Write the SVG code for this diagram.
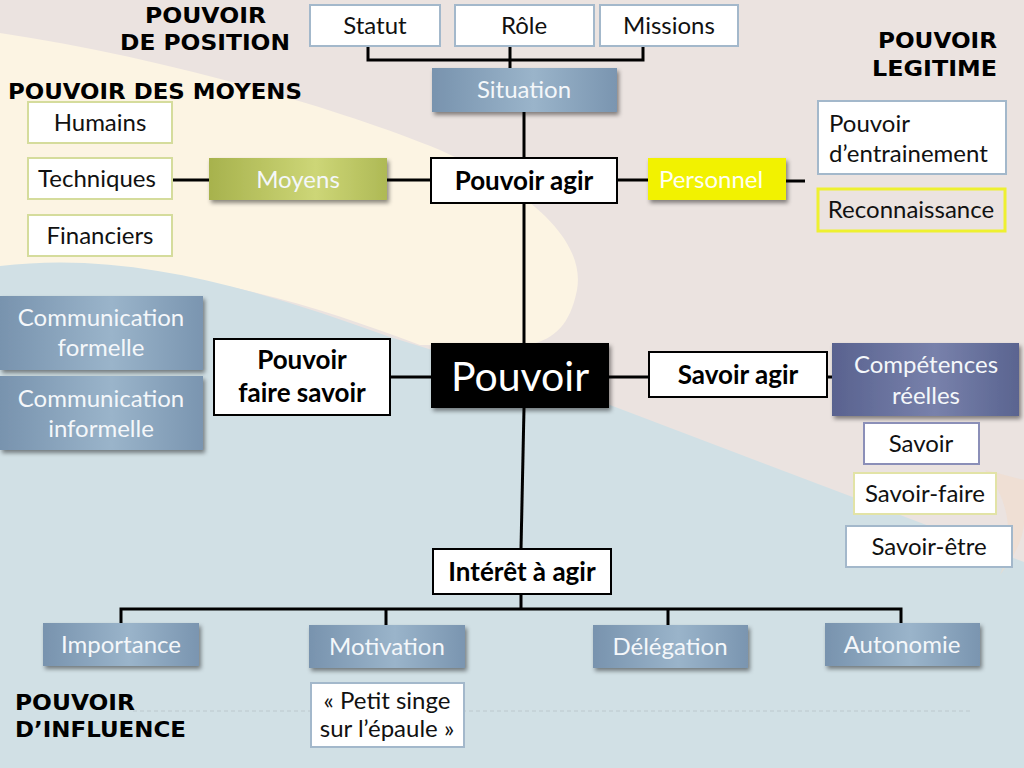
<svg xmlns="http://www.w3.org/2000/svg" width="1024" height="768" viewBox="0 0 1024 768">
<defs>
<style>
.t{font-family:Lato,"Noto Sans",sans-serif;font-size:24px;fill:#111;text-anchor:middle}
.tw{font-family:Lato,"Noto Sans",sans-serif;font-size:24px;fill:#f4f7fa;text-anchor:middle}
.tb{font-family:Lato,"Noto Sans",sans-serif;font-size:26px;font-weight:bold;fill:#000;text-anchor:middle}
.h{font-family:"DejaVu Sans",Verdana,sans-serif;font-size:21px;font-weight:bold;fill:#000}
.wb{fill:#fff;stroke:#a3b8cb;stroke-width:2}
.gb{fill:#fff;stroke:#d5dc9c;stroke-width:2}
.kb{fill:#fff;stroke:#000;stroke-width:2}
.ln{stroke:#000;stroke-width:3;fill:none}
</style>
<linearGradient id="gBlue" x1="0" y1="0" x2="1" y2="0">
<stop offset="0" stop-color="#7893ae"/><stop offset="0.55" stop-color="#9ab4ca"/><stop offset="1" stop-color="#7a95b0"/>
</linearGradient>
<linearGradient id="gOlive" x1="0" y1="0" x2="1" y2="0">
<stop offset="0" stop-color="#a7b24d"/><stop offset="0.6" stop-color="#cdd677"/><stop offset="1" stop-color="#aeb955"/>
</linearGradient>
<linearGradient id="gSlate" x1="0" y1="0" x2="1" y2="0">
<stop offset="0" stop-color="#59628f"/><stop offset="0.55" stop-color="#7881ab"/><stop offset="1" stop-color="#5a6490"/>
</linearGradient>
<filter id="sh" x="-10%" y="-20%" width="125%" height="150%">
<feDropShadow dx="2" dy="3" stdDeviation="2" flood-color="#000" flood-opacity="0.45"/>
</filter>
</defs>

<g id="background">
<rect x="0" y="0" width="1024" height="768" fill="#ebe3e0"/>
<path d="M0,33 C150,55 330,105 440,150 C540,195 585,245 577,290 C570,325 555,338 530,345 L420,345 C300,300 180,262 0,268 Z" fill="#fcf4e3"/>
<path d="M0,266 C130,250 260,290 390,337 L610,405 L1024,562 L1024,768 L0,768 Z" fill="#d1e0e5"/>
<path d="M985,470 C1010,500 1015,540 1000,575 C1012,560 1024,540 1024,520 L1024,480 Z" fill="#f3dcc8" opacity="0.5"/>
<line x1="133" y1="711" x2="973" y2="711" stroke="#bcc8cd" stroke-width="1" stroke-dasharray="4,3"/>
</g>

<g id="labels">
<text class="h" x="145" y="23" textLength="121" lengthAdjust="spacingAndGlyphs">POUVOIR</text>
<text class="h" x="120" y="50" textLength="170" lengthAdjust="spacingAndGlyphs">DE POSITION</text>
<text class="h" x="8" y="99" textLength="294" lengthAdjust="spacingAndGlyphs">POUVOIR DES MOYENS</text>
<text class="h" x="878" y="48" textLength="119" lengthAdjust="spacingAndGlyphs">POUVOIR</text>
<text class="h" x="872" y="76" textLength="125" lengthAdjust="spacingAndGlyphs">LEGITIME</text>
<text class="h" x="15" y="710" textLength="120" lengthAdjust="spacingAndGlyphs">POUVOIR</text>
<text class="h" x="15" y="737" textLength="171" lengthAdjust="spacingAndGlyphs">D’INFLUENCE</text>
</g>

<g id="connectors">
<path class="ln" d="M368,46 V60 H643 V46"/>
<line class="ln" x1="510" y1="46" x2="510" y2="68"/>
<line class="ln" x1="524" y1="112" x2="524" y2="158"/>
<line class="ln" x1="173" y1="180" x2="209" y2="180"/>
<line class="ln" x1="387" y1="180" x2="431" y2="180"/>
<line class="ln" x1="617" y1="180" x2="648" y2="180"/>
<line class="ln" x1="786" y1="181" x2="805" y2="181"/>
<line class="ln" x1="524" y1="203" x2="524" y2="343"/>
<line class="ln" x1="390" y1="377" x2="431" y2="377"/>
<line class="ln" x1="609" y1="377" x2="649" y2="377"/>
<line class="ln" x1="827" y1="377" x2="832" y2="377"/>
<line class="ln" x1="524" y1="408" x2="521" y2="549"/>
<line class="ln" x1="521" y1="594" x2="521" y2="609"/>
<path class="ln" d="M121,623 V609 H901 V623"/>
<line class="ln" x1="386" y1="609" x2="386" y2="625"/>
<line class="ln" x1="668" y1="609" x2="668" y2="625"/>
</g>

<g id="statut"><rect class="wb" x="310" y="5" width="130" height="41"/><text class="t" x="375" y="34">Statut</text></g>
<g id="role"><rect class="wb" x="455" y="5" width="139" height="41"/><text class="t" x="524" y="34">Rôle</text></g>
<g id="missions"><rect class="wb" x="600" y="5" width="138" height="41"/><text class="t" x="669" y="34">Missions</text></g>
<g id="situation"><rect x="432" y="68" width="185" height="44" fill="url(#gBlue)" filter="url(#sh)"/><text class="tw" x="524" y="98">Situation</text></g>

<g id="humains"><rect class="gb" x="28" y="102" width="144" height="41"/><text class="t" x="100" y="131">Humains</text></g>
<g id="techniques"><rect class="gb" x="28" y="158" width="144" height="41"/><text class="t" x="97" y="187">Techniques</text></g>
<g id="financiers"><rect class="gb" x="28" y="215" width="144" height="41"/><text class="t" x="100" y="244">Financiers</text></g>
<g id="moyens"><rect x="209" y="158" width="178" height="42" fill="url(#gOlive)" filter="url(#sh)"/><text class="tw" x="298" y="188">Moyens</text></g>
<g id="pouvoir-agir"><rect class="kb" x="431" y="158" width="186" height="45"/><text class="tb" x="524" y="190">Pouvoir agir</text></g>
<g id="personnel"><rect x="648" y="158" width="138" height="42" fill="#f2f200" filter="url(#sh)"/><text class="tw" x="711" y="188" style="fill:#fffff0">Personnel</text></g>
<g id="entrainement"><rect class="wb" x="818" y="101" width="188" height="73"/><text class="t" x="829" y="132" style="text-anchor:start">Pouvoir</text><text class="t" x="829" y="162" style="text-anchor:start">d’entrainement</text></g>
<g id="reconnaissance"><rect x="818" y="189" width="187" height="42" fill="none" stroke="#eef030" stroke-width="3"/><text class="t" x="911" y="218">Reconnaissance</text></g>

<g id="com-formelle"><rect x="0" y="296" width="203" height="74" fill="url(#gBlue)" filter="url(#sh)"/><text class="tw" x="101" y="326">Communication</text><text class="tw" x="101" y="356">formelle</text></g>
<g id="com-informelle"><rect x="0" y="376" width="203" height="74" fill="url(#gBlue)" filter="url(#sh)"/><text class="tw" x="101" y="407">Communication</text><text class="tw" x="101" y="437">informelle</text></g>
<g id="faire-savoir"><rect class="kb" x="214" y="339" width="176" height="76"/><text class="tb" x="302" y="369">Pouvoir</text><text class="tb" x="302" y="402">faire savoir</text></g>
<g id="pouvoir"><rect x="431" y="343" width="178" height="65" fill="#000" filter="url(#sh)"/><text x="520" y="391" style="font-family:Lato,'Noto Sans',sans-serif;font-size:41px;fill:#fff;text-anchor:middle">Pouvoir</text></g>
<g id="savoir-agir"><rect class="kb" x="649" y="352" width="178" height="45"/><text class="tb" x="738" y="384">Savoir agir</text></g>
<g id="competences"><rect x="832" y="343" width="187" height="73" fill="url(#gSlate)" filter="url(#sh)"/><text class="tw" x="926" y="373">Compétences</text><text class="tw" x="926" y="404">réelles</text></g>
<g id="savoir"><rect x="864" y="423" width="115" height="41" fill="#fff" stroke="#8b8fb8" stroke-width="2"/><text class="t" x="921" y="452">Savoir</text></g>
<g id="savoir-faire"><rect x="854" y="473" width="142" height="41" fill="#fff" stroke="#e2e3a6" stroke-width="2"/><text class="t" x="925" y="502">Savoir-faire</text></g>
<g id="savoir-etre"><rect class="wb" x="846" y="526" width="166" height="41"/><text class="t" x="929" y="555">Savoir-être</text></g>

<g id="interet"><rect class="kb" x="433" y="549" width="178" height="45"/><text class="tb" x="522" y="581">Intérêt à agir</text></g>
<g id="importance"><rect x="43" y="623" width="156" height="43" fill="url(#gBlue)" filter="url(#sh)"/><text class="tw" x="121" y="653">Importance</text></g>
<g id="motivation"><rect x="309" y="625" width="156" height="43" fill="url(#gBlue)" filter="url(#sh)"/><text class="tw" x="387" y="655">Motivation</text></g>
<g id="delegation"><rect x="593" y="625" width="155" height="43" fill="url(#gBlue)" filter="url(#sh)"/><text class="tw" x="670" y="655">Délégation</text></g>
<g id="autonomie"><rect x="825" y="623" width="155" height="43" fill="url(#gBlue)" filter="url(#sh)"/><text class="tw" x="902" y="653">Autonomie</text></g>
<g id="petit-singe"><rect class="wb" x="311" y="683" width="153" height="64"/><text class="t" x="387" y="709">« Petit singe</text><text class="t" x="387" y="737">sur l’épaule »</text></g>
</svg>
